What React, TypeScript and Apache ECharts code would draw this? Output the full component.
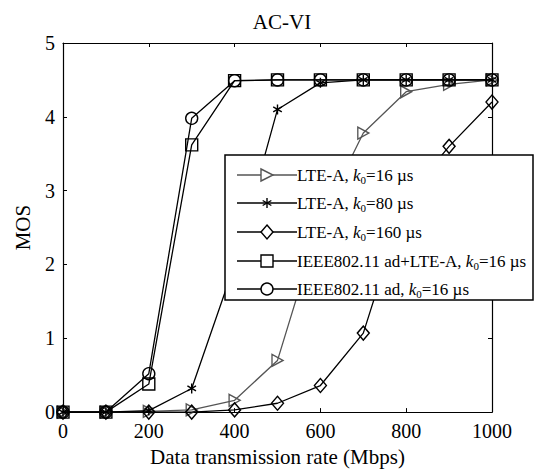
import React, { useEffect, useRef } from "react";
import * as echarts from "echarts";

const xValues = [0, 100, 200, 300, 400, 500, 600, 700, 800, 900, 1000];
const lte16 = [0, 0, 0.01, 0.03, 0.16, 0.7, 2.6, 3.78, 4.34, 4.44, 4.5];
const lte80 = [0, 0, 0.02, 0.32, 2.0, 4.1, 4.46, 4.5, 4.5, 4.5, 4.5];
const lte160 = [0, 0, 0, 0, 0.03, 0.12, 0.36, 1.07, 2.9, 3.6, 4.2];
const adLte16 = [0, 0, 0.38, 3.62, 4.49, 4.5, 4.5, 4.5, 4.5, 4.5, 4.5];
const ad16 = [0, 0, 0.52, 3.98, 4.49, 4.5, 4.5, 4.5, 4.5, 4.5, 4.5];
const legendNames = [
  ["LTE-A, ", "=16 µs"],
  ["LTE-A, ", "=80 µs"],
  ["LTE-A, ", "=160 µs"],
  ["IEEE802.11 ad+LTE-A, ", "=16 µs"],
  ["IEEE802.11 ad, ", "=16 µs"],
];
const xTicks = { min: 0, max: 1000, interval: 200 };
const yTicks = { min: 0, max: 5, interval: 1 };

const FONT = "'Liberation Serif', 'Times New Roman', serif";
const GRAY = "#555555";
const BLACK = "#000000";

const TRI = "path://M0,0L10,5L0,10Z";
const STAR = "path://M5,0L5,10M0.7,2.5L9.3,7.5M0.7,7.5L9.3,2.5";

const pairs = (ys: number[]) => xValues.map((x, i) => [x, ys[i]]);

export default function App() {
  const ref = useRef<HTMLDivElement>(null);
  useEffect(() => {
    if (!ref.current) return;
    const chart = echarts.init(ref.current, undefined, { renderer: "svg" });

    const mkSeries = (
      name: string,
      ys: number[],
      symbol: string,
      size: number | number[],
      color: string,
      z: number
    ) => ({
      name,
      type: "line",
      data: pairs(ys),
      symbol,
      symbolSize: size,
      symbolKeepAspect: true,
      showAllSymbol: true,
      z,
      color,
      lineStyle: { color, width: 1.3 },
      itemStyle: { color: "rgba(0,0,0,0)", borderColor: color, borderWidth: 1.4 },
      emphasis: { disabled: true },
    });

    const Z = 100;
    const lx0 = 237;
    const lx1 = 297;
    const mx = 267;
    const rows = [175, 203, 232, 261, 289];
    const legendChildren: any[] = [
      {
        type: "rect",
        z: Z,
        shape: { x: 225, y: 155, width: 308, height: 145 },
        style: { fill: "#fff", stroke: BLACK, lineWidth: 1.5 },
      },
    ];
    rows.forEach((y, i) => {
      const c = i === 0 ? GRAY : BLACK;
      legendChildren.push({
        type: "line",
        z: Z + 1,
        shape: { x1: lx0, y1: y, x2: lx1, y2: y },
        style: { stroke: c, lineWidth: 1.3 },
      });
      if (i === 0) {
        legendChildren.push({
          type: "polygon",
          z: Z + 2,
          shape: { points: [[mx - 6, y - 6], [mx + 6, y], [mx - 6, y + 6]] },
          style: { fill: "#fff", stroke: c, lineWidth: 1.4 },
        });
      } else if (i === 1) {
        const r = 5;
        [[0, r], [r * 0.87, r * 0.5], [-r * 0.87, r * 0.5]].forEach(([dx, dy]) =>
          legendChildren.push({
            type: "line",
            z: Z + 2,
            shape: { x1: mx - dx, y1: y - dy, x2: mx + dx, y2: y + dy },
            style: { stroke: c, lineWidth: 1.4 },
          })
        );
      } else if (i === 2) {
        legendChildren.push({
          type: "polygon",
          z: Z + 2,
          shape: { points: [[mx, y - 7], [mx + 6, y], [mx, y + 7], [mx - 6, y]] },
          style: { fill: "#fff", stroke: c, lineWidth: 1.4 },
        });
      } else if (i === 3) {
        legendChildren.push({
          type: "rect",
          z: Z + 2,
          shape: { x: mx - 6, y: y - 6, width: 12, height: 12 },
          style: { fill: "#fff", stroke: c, lineWidth: 1.4 },
        });
      } else {
        legendChildren.push({
          type: "circle",
          z: Z + 2,
          shape: { cx: mx, cy: y, r: 6 },
          style: { fill: "#fff", stroke: c, lineWidth: 1.4 },
        });
      }
      const [a, b] = legendNames[i];
      legendChildren.push({
        type: "text",
        z: Z + 2,
        x: lx1,
        y: y,
        style: {
          text: `{n|${a}}{i|k}{s|0}{n|${b}}`,
          verticalAlign: "middle",
          align: "left",
          fill: BLACK,
          rich: {
            n: { fontFamily: FONT, fontSize: 17, lineHeight: 20, fill: BLACK },
            i: { fontFamily: FONT, fontSize: 17, fontStyle: "italic", lineHeight: 20, fill: BLACK },
            s: { fontFamily: FONT, fontSize: 11, lineHeight: 11, verticalAlign: "bottom", fill: BLACK },
          },
        },
      });
    });

    const axisCommon = {
      type: "value" as const,
      axisLine: { show: true, onZero: false, lineStyle: { color: BLACK, width: 1.2 } },
      axisTick: { show: true, inside: true, length: 4, lineStyle: { color: BLACK, width: 1 } },
      splitLine: { show: false },
    };
    const fmt = (v: number) => String(v);

    chart.setOption({
      animation: false,
      backgroundColor: "#fff",
      title: {
        text: "AC-VI",
        left: 277,
        textAlign: "center",
        top: 6,
        textStyle: { fontFamily: FONT, fontSize: 21, fontWeight: "normal", color: BLACK },
      },
      grid: { left: 63, right: 46, top: 43, bottom: 58, containLabel: false },
      xAxis: [
        {
          ...axisCommon,
          position: "bottom",
          ...xTicks,
          name: "Data transmission rate (Mbps)",
          nameLocation: "middle",
          nameGap: 30,
          nameTextStyle: { fontFamily: FONT, fontSize: 21, color: BLACK },
          axisLabel: { fontFamily: FONT, fontSize: 20, color: BLACK, margin: 9, formatter: fmt },
        },
        {
          ...axisCommon,
          position: "top",
          ...xTicks,
          axisLabel: { show: false },
        },
      ],
      yAxis: [
        {
          ...axisCommon,
          position: "left",
          ...yTicks,
          name: "MOS",
          nameLocation: "middle",
          nameGap: 30,
          nameTextStyle: { fontFamily: FONT, fontSize: 21, color: BLACK },
          axisLabel: { fontFamily: FONT, fontSize: 20, color: BLACK, margin: 8, formatter: fmt },
        },
        {
          ...axisCommon,
          position: "right",
          ...yTicks,
          axisLabel: { show: false },
        },
      ],
      series: [
        mkSeries("LTE-A, k0=16 µs", lte16, TRI, [11, 12], GRAY, 2),
        mkSeries("LTE-A, k0=80 µs", lte80, STAR, 10, BLACK, 3),
        mkSeries("LTE-A, k0=160 µs", lte160, "diamond", [12, 14], BLACK, 4),
        mkSeries("IEEE802.11 ad+LTE-A, k0=16 µs", adLte16, "rect", 12, BLACK, 5),
        mkSeries("IEEE802.11 ad, k0=16 µs", ad16, "circle", 12, BLACK, 6),
      ],
      graphic: [{ type: "group", z: Z, children: legendChildren }],
    });
    return () => chart.dispose();
  }, []);
  return (
    <div
      ref={ref}
      style={{ position: "absolute", left: 0, top: 0, width: 538, height: 472, background: "#fff" }}
    />
  );
}
